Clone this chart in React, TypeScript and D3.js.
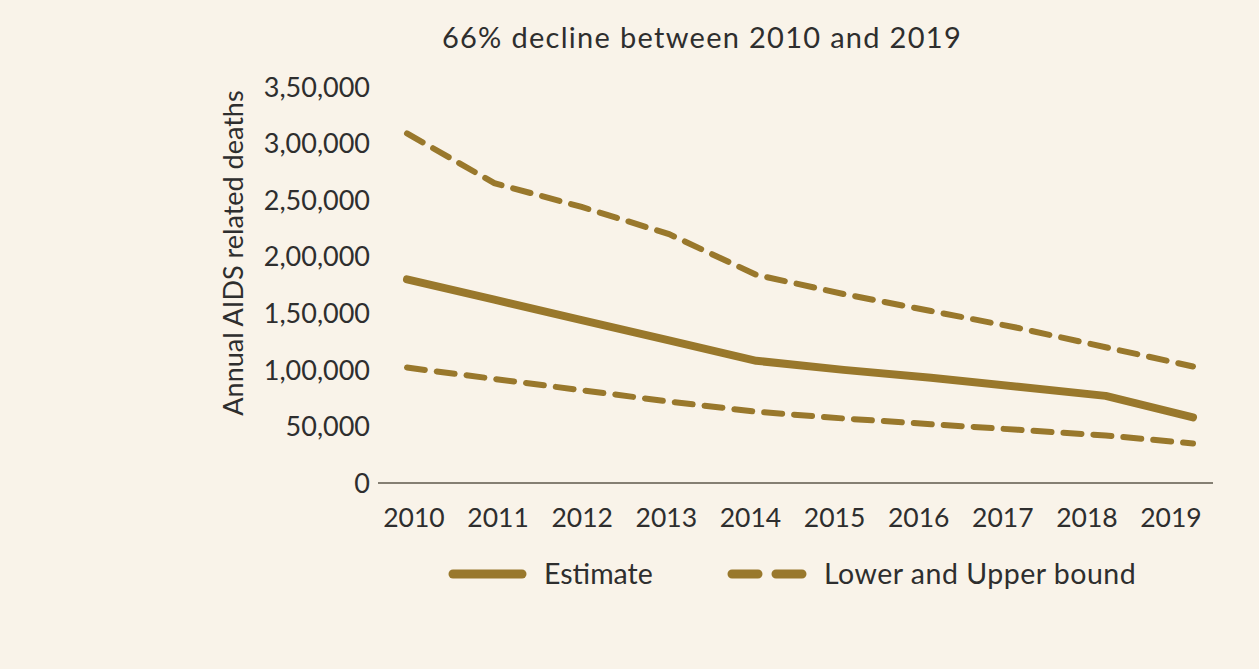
import React from "react";
import * as d3 from "d3";

const years = ["2010", "2011", "2012", "2013", "2014", "2015", "2016", "2017", "2018", "2019"];
const estimate = [180000, 162000, 144000, 126000, 108000, 100000, 93000, 85000, 77000, 58000];
const upper = [309000, 265000, 244000, 220000, 184000, 167000, 152000, 137000, 120000, 103000];
const lower = [102000, 92000, 82000, 72000, 63000, 57000, 52000, 47000, 42000, 35000];
const yTicks = [0, 50000, 100000, 150000, 200000, 250000, 300000, 350000];
const yTickLabels = ["0", "50,000", "1,00,000", "1,50,000", "2,00,000", "2,50,000", "3,00,000", "3,50,000"];

const W = 1259, H = 669;
const BG = "#f9f3e9";
const GOLD = "#99782c";
const TEXT = "#2e2e2e";
const FONT = "Lato, 'Open Sans', sans-serif";

export default function App() {
  const y = d3.scaleLinear().domain([0, 350000]).range([483, 87]);
  const xData = d3.scalePoint<string>().domain(years).range([407, 1193]);
  const xLabel = d3.scalePoint<string>().domain(years).range([414, 1171]);
  const line = d3.line<number>().x((_, i) => xData(years[i])!).y((d) => y(d));

  return (
    <svg width={W} height={H} style={{ position: "absolute", left: 0, top: 0, display: "block" }}>
      <rect x={0} y={0} width={W} height={H} fill={BG} />
      <text x={702} y={48} textAnchor="middle" fontFamily={FONT} fontSize={29} letterSpacing={1.3} fill={TEXT}>
        66% decline between 2010 and 2019
      </text>
      <text
        transform={`translate(243,253) rotate(-90)`}
        textAnchor="middle"
        fontFamily={FONT}
        fontSize={27}
        fill={TEXT}
      >
        Annual AIDS related deaths
      </text>
      {yTicks.map((t, i) => (
        <text key={t} x={370} y={y(t)} dy="0.36em" textAnchor="end" fontFamily={FONT} fontSize={27} fill={TEXT}>
          {yTickLabels[i]}
        </text>
      ))}
      <line x1={378} x2={1213} y1={y(0)} y2={y(0)} stroke="#857f73" strokeWidth={2} />
      {years.map((yr) => (
        <text key={yr} x={xLabel(yr)} y={527} textAnchor="middle" fontFamily={FONT} fontSize={26.5} fill={TEXT}>
          {yr}
        </text>
      ))}
      <path d={line(upper)!} fill="none" stroke={GOLD} strokeWidth={6} strokeDasharray="18 12" strokeLinecap="round" />
      <path d={line(lower)!} fill="none" stroke={GOLD} strokeWidth={6} strokeDasharray="18 12" strokeLinecap="round" />
      <path d={line(estimate)!} fill="none" stroke={GOLD} strokeWidth={8} strokeLinecap="round" strokeLinejoin="round" />
      {/* legend */}
      <line x1={453} x2={522} y1={574} y2={574} stroke={GOLD} strokeWidth={9} strokeLinecap="round" />
      <text x={544} y={574} dy="0.36em" fontFamily={FONT} fontSize={28.5} fill={TEXT}>Estimate</text>
      <line x1={732} x2={804} y1={574} y2={574} stroke={GOLD} strokeWidth={9} strokeLinecap="round" strokeDasharray="26 18" />
      <text x={824} y={574} dy="0.36em" fontFamily={FONT} fontSize={28.5} letterSpacing={0.5} fill={TEXT}>Lower and Upper bound</text>
    </svg>
  );
}
